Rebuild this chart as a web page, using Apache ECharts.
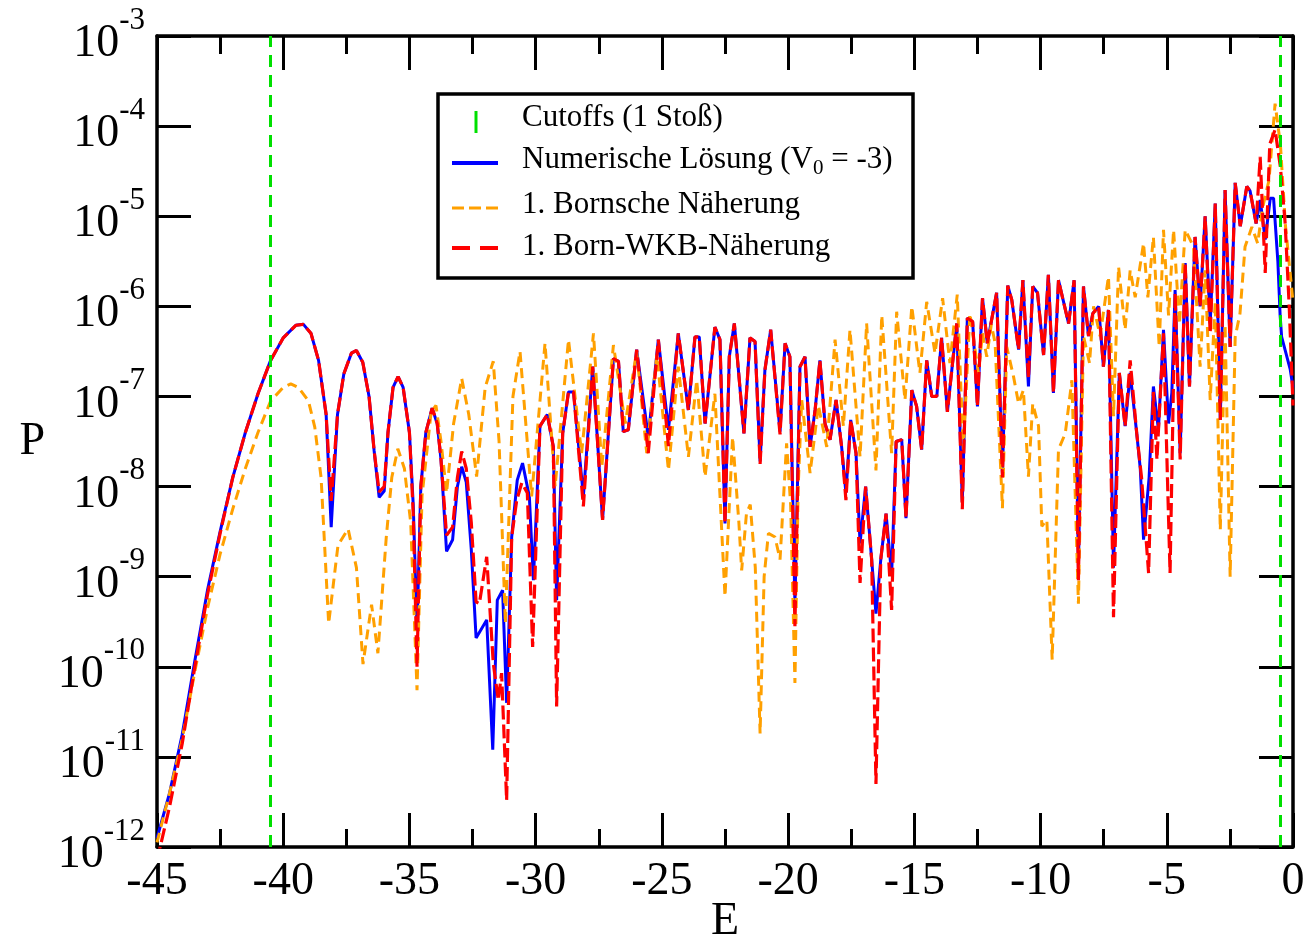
<!DOCTYPE html>
<html>
<head>
<meta charset="utf-8">
<script src="https://cdn.jsdelivr.net/npm/echarts@6/dist/echarts.min.js"></script>
<style>html,body{margin:0;padding:0;background:#fff;}#c{width:1310px;height:940px;}</style>
</head>
<body>
<div id="c"></div>
<script>
// ---- data (E, log10 P) ----
const numerischLog = [[-45.0,-11.9],[-44.5,-11.4],[-44.0,-10.75],[-43.5,-9.93],[-43.0,-9.15],[-42.5,-8.5],[-42.0,-7.9],[-41.5,-7.4],[-41.0,-6.97],[-40.5,-6.6],[-40.0,-6.35],[-39.5,-6.21],[-39.2,-6.2],[-38.9,-6.3],[-38.6,-6.6],[-38.3,-7.2],[-38.1,-8.45],[-37.85,-7.2],[-37.6,-6.75],[-37.3,-6.52],[-37.1,-6.49],[-36.85,-6.62],[-36.6,-7.0],[-36.4,-7.6],[-36.2,-8.12],[-36.0,-8.05],[-35.85,-7.4],[-35.65,-6.9],[-35.45,-6.78],[-35.25,-6.9],[-35.0,-7.4],[-34.85,-8.2],[-34.7,-9.6],[-34.55,-8.0],[-34.35,-7.4],[-34.1,-7.13],[-33.9,-7.3],[-33.75,-7.7],[-33.53,-8.72],[-33.29,-8.59],[-33.1,-8.0],[-32.93,-7.78],[-32.75,-7.95],[-32.55,-8.7],[-32.36,-9.68],[-31.94,-9.48],[-31.7,-10.92],[-31.52,-9.26],[-31.31,-9.15],[-31.15,-10.4],[-30.95,-8.56],[-30.73,-7.93],[-30.52,-7.74],[-30.25,-8.11],[-30.09,-9.04],[-29.83,-7.33],[-29.54,-7.2],[-29.3,-7.56],[-29.17,-9.26],[-28.93,-7.41],[-28.7,-6.95],[-28.5,-6.95],[-28.11,-8.11],[-27.74,-6.67],[-27.35,-8.37],[-26.92,-6.58],[-26.72,-6.61],[-26.53,-7.39],[-26.33,-7.37],[-26.0,-6.48],[-25.54,-7.45],[-25.14,-6.37],[-24.74,-7.37],[-24.35,-6.3],[-23.95,-7.15],[-23.69,-6.34],[-23.52,-6.34],[-23.29,-7.3],[-22.9,-6.23],[-22.7,-6.37],[-22.5,-8.41],[-22.33,-6.56],[-22.13,-6.19],[-21.75,-7.41],[-21.51,-6.35],[-21.31,-6.39],[-21.11,-7.72],[-20.92,-6.71],[-20.69,-6.26],[-20.32,-7.39],[-20.12,-6.41],[-19.93,-6.56],[-19.73,-9.3],[-19.53,-6.67],[-19.33,-6.56],[-19.13,-7.56],[-18.93,-7.15],[-18.74,-6.6],[-18.54,-7.3],[-18.34,-7.48],[-18.1,-7.04],[-17.88,-7.56],[-17.71,-8.07],[-17.52,-7.26],[-17.31,-7.63],[-17.15,-8.63],[-16.93,-8.0],[-16.69,-8.81],[-16.52,-9.41],[-16.33,-8.81],[-16.12,-8.3],[-15.9,-8.98],[-15.72,-7.5],[-15.5,-7.48],[-15.33,-8.35],[-15.1,-6.93],[-14.91,-7.11],[-14.71,-7.59],[-14.51,-6.6],[-14.31,-7.0],[-14.11,-7.0],[-13.92,-6.35],[-13.69,-7.17],[-13.32,-6.19],[-13.1,-8.17],[-12.9,-6.13],[-12.69,-6.17],[-12.5,-7.11],[-12.3,-5.91],[-12.11,-6.41],[-11.74,-5.85],[-11.51,-7.85],[-11.3,-5.77],[-11.14,-5.93],[-10.87,-6.48],[-10.7,-5.71],[-10.48,-6.89],[-10.31,-5.78],[-10.12,-5.85],[-9.88,-6.54],[-9.69,-5.65],[-9.49,-6.96],[-9.29,-5.71],[-8.89,-6.19],[-8.67,-5.71],[-8.5,-8.9],[-8.3,-5.78],[-8.1,-6.33],[-7.93,-6.08],[-7.7,-6.0],[-7.51,-6.67],[-7.31,-6.04],[-7.11,-8.9],[-6.88,-6.74],[-6.65,-7.33],[-6.45,-6.74],[-6.19,-7.41],[-6.05,-7.8],[-5.92,-8.59],[-5.7,-7.9],[-5.53,-6.89],[-5.33,-7.37],[-5.13,-6.26],[-4.93,-7.3],[-4.8,-6.96],[-4.67,-5.82],[-4.47,-7.63],[-4.27,-5.52],[-4.1,-6.89],[-3.88,-5.23],[-3.68,-6.0],[-3.48,-5.0],[-3.28,-6.19],[-3.08,-4.86],[-2.88,-7.26],[-2.69,-4.71],[-2.49,-6.45],[-2.29,-4.63],[-2.09,-5.11],[-1.83,-4.67],[-1.7,-4.72],[-1.46,-5.08],[-1.3,-4.82],[-1.1,-5.26],[-0.9,-4.8],[-0.77,-4.8],[-0.6,-5.5],[-0.51,-6.1],[-0.45,-6.34],[-0.11,-6.7],[0,-6.9]];

const bornLog = [[-45.0,-11.95],[-44.5,-11.4],[-44.0,-10.8],[-43.5,-10.05],[-43.0,-9.35],[-42.5,-8.75],[-42.0,-8.25],[-41.5,-7.8],[-41.0,-7.4],[-40.5,-7.05],[-40.0,-6.9],[-39.7,-6.86],[-39.4,-6.9],[-39.0,-7.05],[-38.75,-7.34],[-38.5,-7.9],[-38.2,-9.52],[-37.83,-8.65],[-37.43,-8.47],[-37.1,-8.9],[-36.84,-9.97],[-36.5,-9.31],[-36.25,-9.85],[-35.92,-8.57],[-35.7,-7.9],[-35.46,-7.58],[-35.2,-7.8],[-34.95,-8.4],[-34.7,-10.26],[-34.5,-8.1],[-34.14,-7.17],[-33.95,-7.1],[-33.75,-7.5],[-33.53,-8.07],[-33.25,-7.3],[-32.93,-6.8],[-32.65,-7.2],[-32.34,-7.89],[-32.0,-6.9],[-31.68,-6.61],[-31.45,-7.5],[-31.2,-9.52],[-30.9,-7.0],[-30.62,-6.5],[-30.16,-8.11],[-29.63,-6.41],[-29.23,-8.0],[-28.7,-6.37],[-28.18,-7.63],[-27.71,-6.3],[-27.38,-7.78],[-26.92,-6.43],[-26.45,-7.3],[-26.0,-6.5],[-25.6,-7.63],[-25.2,-6.54],[-24.74,-7.82],[-24.35,-6.67],[-23.95,-7.67],[-23.62,-6.82],[-23.29,-7.89],[-22.9,-6.97],[-22.5,-9.22],[-22.2,-7.45],[-21.95,-8.4],[-21.84,-8.93],[-21.65,-8.3],[-21.5,-8.2],[-21.3,-8.9],[-21.11,-10.74],[-20.95,-9.0],[-20.78,-8.52],[-20.52,-8.56],[-20.32,-8.81],[-20.06,-7.52],[-19.9,-8.2],[-19.73,-10.18],[-19.6,-8.0],[-19.46,-7.04],[-19.13,-7.85],[-18.8,-7.1],[-18.47,-7.56],[-18.14,-6.37],[-17.81,-7.33],[-17.55,-6.26],[-17.15,-7.67],[-16.89,-6.19],[-16.52,-7.82],[-16.29,-6.1],[-15.9,-7.63],[-15.7,-6.06],[-15.37,-7.04],[-15.1,-6.0],[-14.78,-6.74],[-14.51,-5.95],[-14.18,-6.52],[-13.88,-5.91],[-13.59,-6.63],[-13.3,-5.87],[-13.06,-7.59],[-12.8,-6.08],[-12.46,-6.74],[-12.3,-6.3],[-12.13,-6.56],[-11.95,-6.2],[-11.8,-6.41],[-11.51,-8.24],[-11.34,-6.45],[-11.07,-6.78],[-10.87,-7.08],[-10.68,-6.93],[-10.48,-7.89],[-10.31,-7.08],[-10.08,-7.33],[-9.95,-8.44],[-9.75,-8.37],[-9.54,-9.92],[-9.29,-7.59],[-9.02,-7.41],[-8.76,-6.82],[-8.5,-9.3],[-8.3,-6.33],[-8.06,-6.63],[-7.9,-6.0],[-7.64,-6.33],[-7.31,-5.67],[-7.11,-7.22],[-6.91,-5.56],[-6.65,-6.26],[-6.45,-5.6],[-6.25,-5.9],[-5.92,-5.3],[-5.75,-5.9],[-5.53,-5.23],[-5.3,-6.45],[-5.13,-5.15],[-4.93,-6.1],[-4.73,-5.15],[-4.5,-6.2],[-4.27,-5.15],[-3.94,-5.34],[-3.68,-6.67],[-3.48,-5.6],[-3.28,-7.04],[-3.08,-5.95],[-2.88,-8.48],[-2.69,-6.2],[-2.49,-9.0],[-2.29,-6.34],[-2.1,-6.08],[-1.9,-5.34],[-1.63,-5.12],[-1.4,-5.3],[-1.2,-4.9],[-0.95,-4.6],[-0.71,-3.75],[-0.5,-4.2],[-0.3,-5.1],[0,-5.95]];

const bornWkbLog = [[-45.0,-12.15],[-44.5,-11.55],[-44.0,-10.85],[-43.5,-10.0],[-43.0,-9.2],[-42.5,-8.52],[-42.0,-7.9],[-41.5,-7.4],[-41.0,-6.97],[-40.5,-6.6],[-40.0,-6.35],[-39.5,-6.21],[-39.2,-6.2],[-38.9,-6.3],[-38.6,-6.6],[-38.3,-7.2],[-38.1,-8.16],[-37.85,-7.2],[-37.6,-6.75],[-37.3,-6.52],[-37.1,-6.49],[-36.85,-6.62],[-36.6,-7.0],[-36.4,-7.6],[-36.2,-8.06],[-36.0,-8.0],[-35.85,-7.4],[-35.65,-6.9],[-35.45,-6.78],[-35.25,-6.9],[-35.0,-7.4],[-34.85,-8.3],[-34.7,-10.0],[-34.55,-8.0],[-34.35,-7.4],[-34.1,-7.13],[-33.9,-7.3],[-33.75,-7.7],[-33.53,-8.54],[-33.29,-8.45],[-33.1,-7.9],[-32.93,-7.61],[-32.75,-7.8],[-32.55,-8.4],[-32.36,-9.28],[-32.23,-9.3],[-31.94,-8.78],[-31.68,-9.96],[-31.48,-10.37],[-31.35,-10.07],[-31.15,-11.48],[-30.95,-8.56],[-30.75,-8.15],[-30.55,-7.96],[-30.33,-8.07],[-30.12,-9.78],[-29.83,-7.33],[-29.54,-7.2],[-29.3,-7.56],[-29.17,-10.44],[-28.93,-7.41],[-28.7,-6.95],[-28.5,-6.95],[-28.11,-8.22],[-27.74,-6.67],[-27.35,-8.37],[-26.92,-6.58],[-26.72,-6.61],[-26.53,-7.39],[-26.33,-7.37],[-26.0,-6.48],[-25.54,-7.63],[-25.14,-6.37],[-24.74,-7.55],[-24.35,-6.3],[-23.95,-7.15],[-23.69,-6.34],[-23.52,-6.34],[-23.29,-7.3],[-22.9,-6.23],[-22.7,-6.37],[-22.5,-8.41],[-22.33,-6.56],[-22.13,-6.19],[-21.75,-7.41],[-21.51,-6.35],[-21.31,-6.39],[-21.11,-7.75],[-20.92,-6.71],[-20.69,-6.26],[-20.32,-7.42],[-20.12,-6.41],[-19.93,-6.56],[-19.73,-9.55],[-19.53,-6.67],[-19.33,-6.56],[-19.13,-7.56],[-18.93,-7.15],[-18.74,-6.6],[-18.54,-7.3],[-18.34,-7.48],[-18.1,-7.04],[-17.88,-7.56],[-17.71,-8.15],[-17.52,-7.26],[-17.31,-7.63],[-17.15,-9.07],[-16.93,-8.0],[-16.69,-8.81],[-16.52,-11.3],[-16.33,-8.81],[-16.12,-8.3],[-15.9,-9.37],[-15.72,-7.5],[-15.5,-7.48],[-15.33,-8.35],[-15.1,-6.93],[-14.91,-7.11],[-14.71,-7.59],[-14.51,-6.6],[-14.31,-7.0],[-14.11,-7.0],[-13.92,-6.35],[-13.69,-7.17],[-13.32,-6.19],[-13.1,-8.25],[-12.9,-6.13],[-12.69,-6.17],[-12.5,-7.11],[-12.3,-5.91],[-12.11,-6.41],[-11.74,-5.85],[-11.51,-7.9],[-11.3,-5.77],[-11.14,-5.93],[-10.87,-6.48],[-10.7,-5.71],[-10.48,-6.8],[-10.31,-5.78],[-10.12,-5.85],[-9.88,-6.54],[-9.69,-5.65],[-9.49,-6.96],[-9.29,-5.71],[-8.89,-6.19],[-8.67,-5.71],[-8.5,-9.04],[-8.3,-5.78],[-8.1,-6.33],[-7.93,-6.08],[-7.7,-6.0],[-7.51,-6.67],[-7.31,-6.04],[-7.11,-9.45],[-6.88,-6.74],[-6.65,-7.33],[-6.45,-6.6],[-6.19,-7.41],[-6.0,-7.9],[-5.72,-8.96],[-5.53,-6.95],[-5.39,-7.7],[-5.13,-6.3],[-4.87,-8.96],[-4.67,-5.85],[-4.47,-7.7],[-4.27,-5.52],[-4.1,-6.89],[-3.88,-5.23],[-3.68,-6.0],[-3.48,-5.0],[-3.28,-6.3],[-3.08,-4.86],[-2.88,-7.26],[-2.69,-4.71],[-2.49,-6.45],[-2.29,-4.63],[-2.09,-5.11],[-1.83,-4.67],[-1.7,-4.72],[-1.46,-5.08],[-1.3,-4.34],[-1.1,-5.63],[-0.92,-4.2],[-0.71,-4.04],[-0.5,-4.45],[-0.31,-5.08],[-0.15,-6.0],[0,-7.1]];

const cutoffE = [-40.5, -0.5];
const xRange = [-45, 0];
const yRange = [1e-12, 1e-3];
const legendNames = ['Cutoffs (1 Stoß)', 'Numerische Lösung (V{sub|0} = -3)', '1. Bornsche Näherung', '1. Born-WKB-Näherung'];

const toP = arr => arr.map(d => [d[0], Math.pow(10, d[1])]);
const FONT = "'Liberation Serif','DejaVu Serif',serif";
const axisLineStyle = {color: '#000', width: 3.5};

const chart = echarts.init(document.getElementById('c'), null, {renderer: 'canvas'});
const xCommon = {
  type: 'value', min: xRange[0], max: xRange[1], interval: 5,
  axisLine: {show: true, onZero: false, lineStyle: axisLineStyle},
  axisTick: {show: true, inside: true, length: 34, lineStyle: {color: '#000', width: 3}},
  minorTick: {show: true, splitNumber: 2, length: 18, lineStyle: {color: '#000', width: 3}},
  splitLine: {show: false}, minorSplitLine: {show: false}
};
const yCommon = {
  type: 'log', logBase: 10, min: yRange[0], max: yRange[1], interval: 1,
  axisLine: {show: true, onZero: false, lineStyle: axisLineStyle},
  axisTick: {show: true, inside: true, length: 34, lineStyle: {color: '#000', width: 3}},
  minorTick: {show: false},
  splitLine: {show: false}
};

chart.setOption({
  animation: false,
  backgroundColor: '#fff',
  grid: {left: 157, right: 17, top: 36, bottom: 93, containLabel: false, outerBoundsMode: 'none'},
  xAxis: [
    Object.assign({}, xCommon, {
      position: 'bottom',
      name: 'E', nameLocation: 'middle', nameGap: 52, nameMoveOverlap: false,
      nameTextStyle: {fontFamily: FONT, fontSize: 46, color: '#000'},
      axisLabel: {show: true, margin: 12, fontFamily: FONT, fontSize: 46, color: '#000'}
    }),
    Object.assign({}, xCommon, {position: 'top', axisLabel: {show: false}})
  ],
  yAxis: [
    Object.assign({}, yCommon, {
      position: 'left',
      name: 'P', nameLocation: 'middle', nameGap: 112, nameRotate: 0, nameMoveOverlap: false,
      nameTextStyle: {fontFamily: FONT, fontSize: 46, color: '#000'},
      axisLabel: {
        show: true, margin: 12, color: '#000',
        formatter: v => '{b|10}{s|' + Math.round(Math.log10(v)) + '}',
        rich: {
          b: {fontFamily: FONT, fontSize: 46, color: '#000', verticalAlign: 'bottom', lineHeight: 62},
          s: {fontFamily: FONT, fontSize: 31, color: '#000', verticalAlign: 'top', lineHeight: 31}
        }
      }
    }),
    Object.assign({}, yCommon, {position: 'right', axisLabel: {show: false}})
  ],
  series: [
    {
      name: 'Cutoffs (1 Stoß)', type: 'line', data: [], xAxisIndex: 0, yAxisIndex: 0,
      markLine: {
        silent: true, symbol: ['none', 'none'], label: {show: false},
        lineStyle: {color: '#00e000', type: [12, 8], width: 3},
        data: cutoffE.map(e => ({xAxis: e}))
      }
    },
    {
      name: 'Numerische Lösung', type: 'line', data: toP(numerischLog), xAxisIndex: 0, yAxisIndex: 0,
      showSymbol: false, symbol: 'none', clip: true,
      lineStyle: {color: '#0000ff', width: 3}
    },
    {
      name: '1. Bornsche Näherung', type: 'line', data: toP(bornLog), xAxisIndex: 0, yAxisIndex: 0,
      showSymbol: false, symbol: 'none', clip: true,
      lineStyle: {color: '#ffa000', width: 3, type: [10, 6]}
    },
    {
      name: '1. Born-WKB-Näherung', type: 'line', data: toP(bornWkbLog), xAxisIndex: 0, yAxisIndex: 0,
      showSymbol: false, symbol: 'none', clip: true,
      lineStyle: {color: '#ff0000', width: 3.2, type: [14, 5]}
    }
  ],
  graphic: [{
    type: 'group', z: 100,
    children: [
      {type: 'rect', shape: {x: 438, y: 94, width: 475, height: 184}, style: {fill: '#fff', stroke: '#000', lineWidth: 3.5}},
      {type: 'line', shape: {x1: 476, y1: 111, x2: 476, y2: 133}, style: {stroke: '#00e000', lineWidth: 3}},
      {type: 'line', shape: {x1: 452, y1: 163, x2: 498, y2: 163}, style: {stroke: '#0000ff', lineWidth: 4}},
      {type: 'line', shape: {x1: 452, y1: 208, x2: 498, y2: 208}, style: {stroke: '#ffa000', lineWidth: 3, lineDash: [12, 5]}},
      {type: 'line', shape: {x1: 452, y1: 248, x2: 498, y2: 248}, style: {stroke: '#ff0000', lineWidth: 4, lineDash: [18, 10]}},
      {type: 'text', x: 522, y: 118, style: {text: legendNames[0], fontFamily: FONT, fontSize: 31, fill: '#000', verticalAlign: 'middle'}},
      {type: 'text', x: 522, y: 160, style: {text: legendNames[1], fontFamily: FONT, fontSize: 31, fill: '#000', verticalAlign: 'middle',
        rich: {sub: {fontFamily: FONT, fontSize: 21, fill: '#000', padding: [16, 0, 0, 0]}}}},
      {type: 'text', x: 522, y: 205, style: {text: legendNames[2], fontFamily: FONT, fontSize: 31, fill: '#000', verticalAlign: 'middle'}},
      {type: 'text', x: 522, y: 247, style: {text: legendNames[3], fontFamily: FONT, fontSize: 31, fill: '#000', verticalAlign: 'middle'}}
    ]
  }]
});
</script>
</body>
</html>
